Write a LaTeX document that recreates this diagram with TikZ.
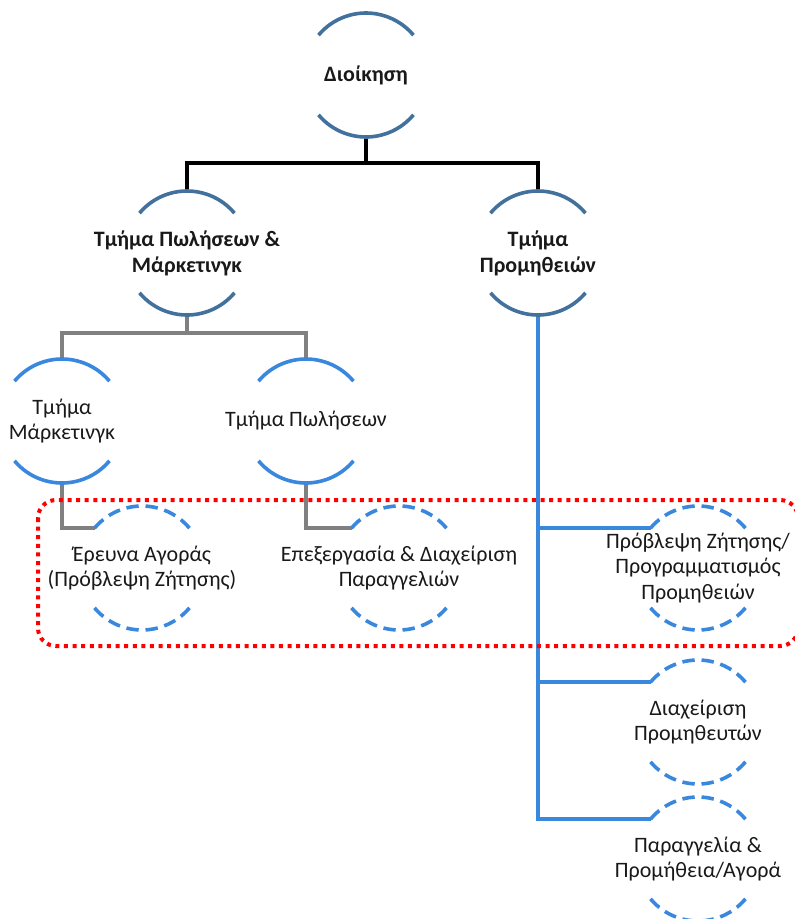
\documentclass[tikz,border=0pt]{standalone}
\usepackage{fontspec}
\setmainfont{Carlito}
\definecolor{arcdark}{RGB}{65,113,156}
\definecolor{arclight}{RGB}{58,135,222}
\definecolor{linegrey}{RGB}{128,128,128}
\definecolor{ink}{RGB}{25,25,25}
\definecolor{hilite}{RGB}{255,0,0}
% pair of arcs (top and bottom) around a ring node
\newcommand\ringarcs[2]{%
  \draw[#2] (#1.140) arc[start angle=140,end angle=40,radius=62pt];
  \draw[#2] (#1.220) arc[start angle=220,end angle=320,radius=62pt];}
\begin{document}
\begin{tikzpicture}[x=1pt,y=-1pt,
  ring/.style={circle,minimum size=124pt,inner sep=0pt,outer sep=0pt,draw=none},
  txt/.style={align=center,font=\fontsize{22}{25.5}\selectfont,text=ink,inner sep=0pt},
  btxt/.style={align=center,font=\fontsize{22}{26}\selectfont\bfseries,text=ink,inner sep=0pt},
  arcdk/.style={draw=arcdark,line width=3.6pt},
  arclt/.style={draw=arclight,line width=3.6pt},
  arcds/.style={draw=arclight,line width=3.6pt,dash pattern=on 12.4pt off 6.8pt},
  blk/.style={draw=black,line width=3.6pt},
  gry/.style={draw=linegrey,line width=3.6pt},
  blu/.style={draw=arclight,line width=3.6pt},
  reddot/.style={draw=hilite,line width=4pt,dash pattern=on 4pt off 4.6pt,rounded corners=18pt}
]
\useasboundingbox (0,0) rectangle (795,919);

% ring nodes
\node[ring] (root) at (366,75) {};
\node[ring] (sm) at (187,253) {};
\node[ring] (pr) at (538,253) {};
\node[ring] (mk) at (62,421) {};
\node[ring] (sl) at (306,421) {};
\node[ring] (er) at (142,568) {};
\node[ring] (ep) at (399,568) {};
\node[ring] (pz) at (698,568) {};
\node[ring] (dp) at (698,722) {};
\node[ring] (pp) at (698,859) {};

% connectors
\coordinate (bus0) at (366,163);
\coordinate (bus1) at (187,333);
\draw[blk] (root.south) -- (bus0) -| (sm.north);
\draw[blk] (bus0) -| (pr.north);
\draw[gry] (sm.south) -- (bus1) -| (mk.north);
\draw[gry] (bus1) -| (sl.north);
\draw[gry] (mk.south) |- (er.140);
\draw[gry] (sl.south) |- (ep.140);
\draw[blu] (pr.south) |- (pp.140);
\draw[blu] (pr.south |- pz.140) -- (pz.140);
\draw[blu] (pr.south |- dp.140) -- (dp.140);

% arcs
\ringarcs{root}{arcdk}
\ringarcs{sm}{arcdk}
\ringarcs{pr}{arcdk}
\ringarcs{mk}{arclt}
\ringarcs{sl}{arclt}
\ringarcs{er}{arcds}
\ringarcs{ep}{arcds}
\ringarcs{pz}{arcds}
\ringarcs{dp}{arcds}
\ringarcs{pp}{arcds}

% labels
\node[btxt] (root-t) at (root.center) {Διοίκηση};
\node[btxt] (sm-t) at (sm.center) {Τμήμα Πωλήσεων \&\\Μάρκετινγκ};
\node[btxt] (pr-t) at (pr.center) {Τμήμα\\Προμηθειών};
\node[txt] (mk-t) at (mk.center) {Τμήμα\\Μάρκετινγκ};
\node[txt] (sl-t) at (sl.center) {Τμήμα Πωλήσεων};
\node[txt] (er-t) at (er.center) {Έρευνα Αγοράς\\(Πρόβλεψη Ζήτησης)};
\node[txt] (ep-t) at (ep.center) {Επεξεργασία \& Διαχείριση\\Παραγγελιών};
\node[txt] (pz-t) at (pz.center) {Πρόβλεψη Ζήτησης/\\Προγραμματισμός\\Προμηθειών};
\node[txt] (dp-t) at (dp.center) {Διαχείριση\\Προμηθευτών};
\node[txt] (pp-t) at (pp.center) {Παραγγελία \&\\Προμήθεια/Αγορά};

% highlighted group
\draw[reddot] (38,500) rectangle (798,646);
\end{tikzpicture}
\end{document}
